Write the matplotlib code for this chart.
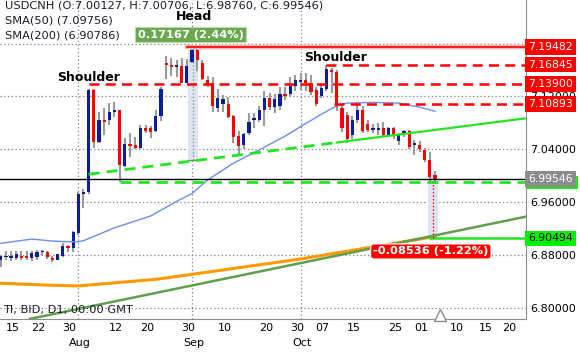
#!/usr/bin/env python3
# usdcnh head and shoulders, daily candles with levels

import numpy as np
import matplotlib.pyplot as plt
from matplotlib.patches import Rectangle
from matplotlib.transforms import ScaledTranslation, blended_transform_factory

# daily bars, position 0 = 1 Aug 2019, one step per trading day
bar_pos = np.arange(-15, 70)
opens = [6.872, 6.877, 6.875, 6.876, 6.878, 6.878, 6.876, 6.877, 6.884, 6.885,
         6.8757, 6.873, 6.878, 6.894, 6.890, 6.913, 6.972, 6.976, 7.130, 7.0515,
         7.085, 7.084, 7.097, 7.0995, 7.015, 7.048, 7.046, 7.0415, 7.072, 7.073,
         7.067, 7.090, 7.170, 7.167, 7.164, 7.166, 7.141, 7.173, 7.190, 7.170,
         7.145, 7.140, 7.102, 7.108, 7.109, 7.090, 7.060, 7.046, 7.064, 7.084,
         7.084, 7.0995, 7.117, 7.104, 7.106, 7.124, 7.124, 7.136, 7.142, 7.145,
         7.141, 7.130, 7.121, 7.132, 7.160, 7.157, 7.102, 7.092, 7.062, 7.084,
         7.099, 7.079, 7.069, 7.069, 7.072, 7.062, 7.072, 7.052, 7.064, 7.067,
         7.046, 7.047, 7.039, 7.024, 7.00127]
highs = [6.880, 6.886, 6.886, 6.886, 6.886, 6.886, 6.886, 6.888, 6.887, 6.886,
         6.8785, 6.882, 6.8975, 6.895, 6.916, 6.975, 6.980, 7.132, 7.131, 7.097,
         7.1025, 7.110, 7.112, 7.100, 7.057, 7.065, 7.059, 7.077, 7.077, 7.075,
         7.100, 7.135, 7.181, 7.178, 7.176, 7.178, 7.177, 7.1948, 7.1948, 7.176,
         7.151, 7.150, 7.131, 7.122, 7.119, 7.092, 7.068, 7.064, 7.095, 7.095,
         7.106, 7.129, 7.126, 7.124, 7.134, 7.134, 7.150, 7.152, 7.155, 7.155,
         7.152, 7.135, 7.138, 7.168, 7.163, 7.160, 7.106, 7.096, 7.090, 7.112,
         7.105, 7.085, 7.078, 7.080, 7.082, 7.074, 7.074, 7.064, 7.069, 7.069,
         7.054, 7.052, 7.042, 7.036, 7.00706]
lows = [6.862, 6.872, 6.871, 6.872, 6.872, 6.872, 6.871, 6.872, 6.880, 6.8735,
        6.870, 6.872, 6.877, 6.885, 6.885, 6.910, 6.951, 6.972, 7.0415, 7.050,
        7.062, 7.077, 7.089, 6.991, 7.013, 7.029, 7.041, 7.040, 7.064, 7.057,
        7.066, 7.083, 7.146, 7.151, 7.150, 7.140, 7.140, 7.170, 7.158, 7.145,
        7.135, 7.097, 7.097, 7.096, 7.087, 7.049, 7.031, 7.040, 7.062, 7.072,
        7.082, 7.075, 7.099, 7.095, 7.100, 7.114, 7.119, 7.128, 7.130, 7.128,
        7.122, 7.105, 7.118, 7.128, 7.125, 7.098, 7.066, 7.050, 7.055, 7.080,
        7.064, 7.066, 7.065, 7.062, 7.059, 7.059, 7.055, 7.046, 7.058, 7.041,
        7.031, 7.036, 7.021, 6.990, 6.98760]
closes = [6.878, 6.879, 6.878, 6.881, 6.876, 6.876, 6.883, 6.885, 6.885, 6.877,
          6.872, 6.881, 6.8935, 6.891, 6.914, 6.972, 6.976, 7.130, 7.0515, 7.084,
          7.082, 7.097, 7.0995, 7.016, 7.048, 7.045, 7.042, 7.072, 7.068, 7.066,
          7.090, 7.132, 7.167, 7.164, 7.167, 7.141, 7.166, 7.190, 7.175, 7.146,
          7.139, 7.106, 7.117, 7.116, 7.089, 7.059, 7.045, 7.063, 7.082, 7.087,
          7.0995, 7.117, 7.1045, 7.116, 7.124, 7.121, 7.136, 7.145, 7.145, 7.141,
          7.127, 7.108, 7.133, 7.162, 7.157, 7.104, 7.072, 7.056, 7.084, 7.0995,
          7.067, 7.069, 7.072, 7.072, 7.062, 7.072, 7.062, 7.062, 7.067, 7.044,
          7.049, 7.040, 7.024, 6.998, 6.99546]

# moving averages
sma50_pos = [-15, -9, -5, -2, 0, 1, 7, 14, 19, 22, 25, 30, 35, 40, 44, 47, 50, 52, 57, 62, 66, 69]
sma50_val = [6.8976, 6.904, 6.901, 6.900, 6.900, 6.9015, 6.921, 6.939, 6.961, 6.973, 6.9935,
             7.019, 7.039, 7.060, 7.079, 7.093, 7.106, 7.110, 7.111, 7.110, 7.104, 7.0976]
sma200_pos = [-15, -5, 0, 15, 22, 43, 69]
sma200_val = [6.837, 6.834, 6.833, 6.843, 6.8506, 6.8738, 6.90786]

# drawn lines
trend_pos = [-9.4, 86.6]
trend_val = [6.783, 6.938]
neck_pos = [2, 50, 86.6]
neck_val = [7.0022, 7.0503, 7.087]
head_level, head_start = 7.19482, 21
red_dash_levels = [7.16845, 7.13900, 7.10893]
red_dash_starts = [48, 2, 49.5]
support_level, support_start = 6.990, 8
target_level, target_start = 6.90494, 68
last_close = 6.99546

# measurements
meas1 = (21.2, 23.1, 7.02315, 7.19482, "0.17167 (2.44%)")
meas2 = (67.7, 69.5, 6.90494, 6.99030, "-0.08536 (-1.22%)")

day_ticks = [-13, -8, -2, 7, 13, 21, 28, 36, 42, 47, 53, 61, 66, 73, 78.5, 83]
day_labels = ["15", "22", "30", "12", "20", "30", "10", "20", "30", "07", "15", "25",
              "01", "10", "15", "20"]
month_ticks = [0, 22, 43, 66]
month_labels = ["Aug", "Sep", "Oct", "Nov"]
price_ticks = [6.80, 6.88, 6.96, 7.04, 7.12, 7.20]

BLUE = "#0a1e96"
RED = "#ff0000"
LIME = "#22e622"

fig = plt.figure(figsize=(5.8, 3.52), dpi=100)
ax = fig.add_axes([0, 33 / 352, 526 / 580, 319 / 352])
ax.set_xlim(-15.145, 86.6)
ax.set_ylim(6.7829, 7.2662)

for s in ("top", "left"):
    ax.spines[s].set_visible(False)
for s in ("right", "bottom"):
    ax.spines[s].set_color("#8c8c8c")

ax.yaxis.tick_right()
ax.set_yticks(price_ticks)
ax.set_yticklabels(["%.5f" % v if v < 7.19 else "" for v in price_ticks])
ax.tick_params(axis="y", length=0, pad=3, labelsize=8)
ax.set_xticks(day_ticks)
ax.set_xticklabels(day_labels)
ax.set_xticks(month_ticks, minor=True)
ax.set_xticklabels(month_labels, minor=True)
ax.tick_params(axis="x", which="major", length=0, pad=3, labelsize=8)
ax.tick_params(axis="x", which="minor", length=0, pad=14, labelsize=8)
shift = ScaledTranslation(0.015, 0, fig.dpi_scale_trans)
for lab in ax.get_xticklabels() + ax.get_xticklabels(minor=True):
    lab.set_transform(lab.get_transform() + shift)

ax.grid(axis="y", ls=(0, (1, 2)), color="#808080", lw=0.9)
ax.grid(axis="x", which="minor", ls=(0, (1, 2)), color="#808080", lw=0.9)
ax.set_axisbelow(True)

# measurement bands
for x0, x1, y0, y1, _ in (meas1, meas2):
    ax.fill_between([x0, x1], y0, y1, color="#dde5f4", zorder=1, lw=0)
ax.plot([(meas1[0] + meas1[1]) / 2] * 2, meas1[2:4], ls=(0, (1, 1.5)), color="#7fa070", lw=1, zorder=1.5)
ax.plot([meas1[0], meas1[1]], [meas1[2]] * 2, color="#5fa04a", lw=1, zorder=1.5)
ax.plot([(meas2[0] + meas2[1]) / 2] * 2, meas2[2:4], ls=(0, (1, 1.5)), color=RED, lw=1, zorder=7)

# candles
o = np.array(opens)
c = np.array(closes)
up = c >= o
ax.vlines(bar_pos, lows, highs, color="#9a9a9a", lw=1.5, zorder=3)
ax.bar(bar_pos, np.maximum(np.abs(c - o), 0.0018), 0.62, np.minimum(o, c),
       color=np.where(up, BLUE, RED), zorder=4)

# moving averages and trend lines
ax.plot(sma200_pos, sma200_val, color="#ff9900", lw=2.2, zorder=5)
ax.plot(sma50_pos, sma50_val, color="#6b8ee8", lw=1, zorder=5)
ax.plot(trend_pos, trend_val, color="#5fa04a", lw=1.8, zorder=5)
ax.plot(neck_pos[:2], neck_val[:2], color=LIME, lw=2, dashes=(4, 2.5), zorder=6)
ax.plot(neck_pos[1:], neck_val[1:], color=LIME, lw=1.6, zorder=6)

right = ax.get_xlim()[1]
ax.plot([head_start, right], [head_level] * 2, color="#ffb0b0", lw=3.2, zorder=6)
ax.plot([head_start, right], [head_level] * 2, color=RED, lw=1.2, zorder=6)
for lvl, st in zip(red_dash_levels, red_dash_starts):
    ax.plot([st, right], [lvl, lvl], color=RED, lw=1.8, dashes=(4, 2.5), zorder=6)
ax.plot([support_start, right], [support_level] * 2, color=LIME, lw=2, dashes=(4, 2.5), zorder=6)
ax.plot([target_start, right], [target_level] * 2, color=LIME, lw=1.8, zorder=6)
ax.axhline(last_close, color="black", lw=1, zorder=6)

# right-hand value boxes
yblend = blended_transform_factory(ax.transAxes, ax.transData)


def value_box(val, fc, tc, z=10):
    ax.text(1.004, val, "%.5f" % val, transform=yblend, ha="left", va="center",
            fontsize=7.8, color=tc, zorder=z, clip_on=False,
            bbox=dict(boxstyle="square,pad=0.27", fc=fc, ec="none"))


value_box(head_level, RED, "white")
for lvl in red_dash_levels:
    value_box(lvl, RED, "white")
# support box mostly hidden behind the last-close box, only its lower edge shows
ax.add_patch(Rectangle((1.002, support_level - 0.0099), 0.097, 0.0198, transform=yblend,
                       fc=LIME, ec="none", clip_on=False, zorder=9))
value_box(last_close, "#8c8c8c", "white")
value_box(target_level, "#00f000", "black")

# measurement labels
ax.text(21.7, 7.2139, meas1[4], ha="center", va="center", fontsize=8.2, color="white",
        weight="bold", zorder=10,
        bbox=dict(boxstyle="square,pad=0.22", fc="#6aa84f", ec="#b9d9a8", lw=0.8))
ax.text(68.2, 6.8852, meas2[4], ha="center", va="center", fontsize=8.2, color="white",
        weight="bold", zorder=10,
        bbox=dict(boxstyle="round,pad=0.22,rounding_size=0.3", fc=RED, ec="white", lw=0.8))

# pattern labels
ax.text(22.3, 7.2412, "Head", ha="center", va="center", fontsize=9, weight="bold", zorder=10)
ax.text(2.0, 7.1495, "Shoulder", ha="center", va="center", fontsize=9, weight="bold", zorder=10)
ax.text(49.8, 7.179, "Shoulder", ha="center", va="center", fontsize=9, weight="bold", zorder=10)

# header and footer
hdr = ["USDCNH (O:7.00127, H:7.00706, L:6.98760, C:6.99546)", "SMA(50) (7.09756)", "SMA(200) (6.90786)"]
for i, t in enumerate(hdr):
    fig.text(5 / 580, 1 - (6 + 14.5 * i) / 352, t, ha="left", va="center", fontsize=8.2, color="#1a1a2a")
fig.text(3 / 580, 1 - 310 / 352, "TI, BID, D1, 00:00 GMT", ha="left", va="center", fontsize=8.2, color="#1a1a2a")

# current bar marker
ax.plot([69.9], [0.013], marker="^", ms=8, mfc="white", mec="#8c8c8c", mew=1,
        transform=blended_transform_factory(ax.transData, ax.transAxes), clip_on=False, zorder=10)

fig.savefig("out.png", dpi=100)
